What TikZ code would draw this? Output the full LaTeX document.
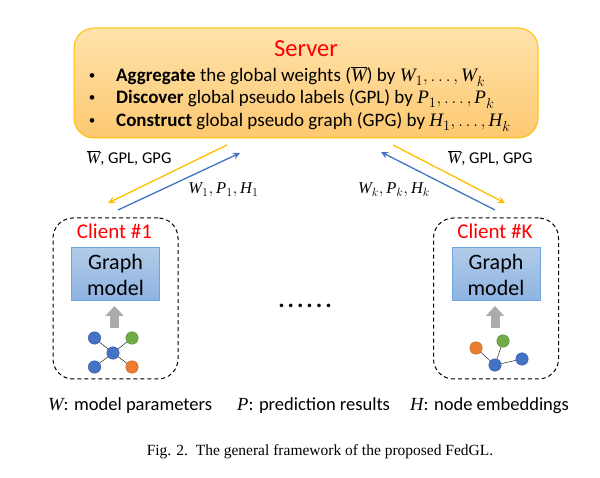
\documentclass[tikz,border=0pt]{standalone}
\usepackage{amsmath, amssymb}
\usepackage{fontspec}
\setmainfont{Carlito}
\newfontfamily\capfont{Liberation Serif}
\usetikzlibrary{arrows.meta, positioning}
\definecolor{mYellow}{HTML}{FFC000}
\definecolor{mBlue}{HTML}{4472C4}
\definecolor{mGreen}{HTML}{70AD47}
\definecolor{mOrange}{HTML}{ED7D31}
\definecolor{mServerTop}{HTML}{FEE3AC}
\definecolor{mServerBot}{HTML}{FDC870}
\definecolor{mModelTop}{HTML}{B1CBE8}
\definecolor{mModelBot}{HTML}{8EB3E2}
\definecolor{mModelLine}{HTML}{6FA4DC}
\newcommand{\mv}[1]{\text{\capfont\itshape #1}}
\newcommand{\wbar}{\overline{\mv{W}}}
\tikzset{
  serverbox/.style={draw=mYellow, line width=1pt, rounded corners=20pt, top color=mServerTop, bottom color=mServerBot, minimum width=464pt, minimum height=110pt},
  clientbox/.style={draw, line width=1pt, dash pattern=on 4pt off 3pt, rounded corners=20pt, minimum width=125pt, minimum height=161pt},
  modelbox/.style={draw=mModelLine, line width=1pt, top color=mModelTop, bottom color=mModelBot, minimum width=88pt, minimum height=53pt, align=center, font=\fontsize{22}{26}\selectfont, inner sep=0pt},
  grayarrow/.style={line width=9pt, black!33, -{Triangle[length=10pt,width=18pt]}},
  vertex/.style={circle, draw=#1!80!black, fill=#1, minimum size=12.5pt, inner sep=0pt},
  yellowline/.style={-{Stealth[length=7pt,width=7pt]}, line width=1.3pt, mYellow},
  blueline/.style={-{Stealth[length=7pt,width=7pt]}, line width=1.3pt, mBlue},
  msg/.style={font=\fontsize{16.5}{18}\selectfont, inner sep=0pt},
  row/.style={anchor=base west, font=\fontsize{19}{20}\selectfont, inner sep=0pt},
  legend/.style={anchor=base west, font=\fontsize{18.5}{20}\selectfont, inner sep=0pt},
  clienttitle/.style={font=\fontsize{21}{24}\selectfont, text=red, inner sep=0pt}
}
\begin{document}
\begin{tikzpicture}[x=1pt, y=-1pt]
    \useasboundingbox (0,0) rectangle (600,478);
    % server
    \node[serverbox] (server) at (306,83) {};
    \node[font=\fontsize{24.5}{28}\selectfont, text=red, anchor=base, inner sep=0pt] (title) at (306,57) {Server};
    \foreach \y/\t [count=\i] in {
      82/{\textbf{Aggregate} the global weights ($\wbar$) by $\mv{W}_1,\dots,\mv{W}_k$},
      104/{\textbf{Discover} global pseudo labels (GPL) by $\mv{P}_1,\dots,\mv{P}_k$},
      127/{\textbf{Construct} global pseudo graph (GPG) by $\mv{H}_1,\dots,\mv{H}_k$}} {
      \node[font=\fontsize{13}{14}\selectfont, inner sep=0pt] (bullet\i) at (92,\y-5) {\textbullet};
      \node[row] (row\i) at (116,\y) {\t};
    }
    % clients
    \foreach \x/\n/\name in {115.5/a/Client \#1, 496/b/Client \#K} {
      \node[clientbox] (client\n) at (\x,298.5) {};
      \node[clienttitle] (title\n) at (\x-1,231) {\name};
      \node[modelbox] (model\n) at (\x,274.5) {Graph\\model};
      \coordinate (tail\n) at (\x-1,328);
      \coordinate (tip\n) at (\x-1,306);
      \draw[grayarrow] (tail\n) -- (tip\n);
    }
    % local graphs
    \node[vertex=mBlue] (c) at (113,353) {};
    \node[vertex=mBlue] (c1) at (94.5,338) {};
    \node[vertex=mGreen] (c2) at (132,338) {};
    \node[vertex=mBlue] (c3) at (94.5,367) {};
    \node[vertex=mOrange] (c4) at (132,367) {};
    \foreach \v in {c1,c2,c3,c4} \draw (c) -- (\v);
    \node[vertex=mBlue] (d) at (495,365) {};
    \node[vertex=mOrange] (d1) at (476,348) {};
    \node[vertex=mGreen] (d2) at (503,341) {};
    \node[vertex=mBlue] (d3) at (522,359) {};
    \foreach \v in {d1,d2,d3} \draw (d) -- (\v);
    % messages
    \coordinate (ya) at (227,145);
    \coordinate (yb) at (108,203);
    \coordinate (ba) at (118,210);
    \coordinate (bb) at (240,153);
    \coordinate (yc) at (393,145);
    \coordinate (yd) at (505,203);
    \coordinate (bc) at (495,210);
    \coordinate (bd) at (381,152);
    \draw[yellowline] (ya) -- (yb);
    \draw[blueline] (ba) -- (bb);
    \draw[yellowline] (yc) -- (yd);
    \draw[blueline] (bc) -- (bd);
    \node[msg] (m1) at (129,158) {$\wbar$, GPL, GPG};
    \node[msg] (m2) at (223.5,190) {$\mv{W}_1,\mv{P}_1,\mv{H}_1$};
    \node[msg] (m3) at (394,190) {$\mv{W}_k,\mv{P}_k,\mv{H}_k$};
    \node[msg] (m4) at (490,158) {$\wbar$, GPL, GPG};
    \node[font=\fontsize{24}{24}\selectfont\bfseries, inner sep=0pt] (dots) at (305,306) {.\kern3pt.\kern3pt.\kern3pt.\kern3pt.\kern3pt.};
    % legend
    \node[legend] (lw) at (48,410.5) {$\mv{W}$: model parameters};
    \node[legend] (lp) at (237,410.5) {$\mv{P}$: prediction results};
    \node[legend] (lh) at (410,410.5) {$\mv{H}$: node embeddings};
    \node[font=\capfont\fontsize{15.5}{17}\selectfont, inner sep=0pt] (caption) at (320,452) {Fig. 2.\ \ The general framework of the proposed FedGL.};
\end{tikzpicture}
\end{document}
